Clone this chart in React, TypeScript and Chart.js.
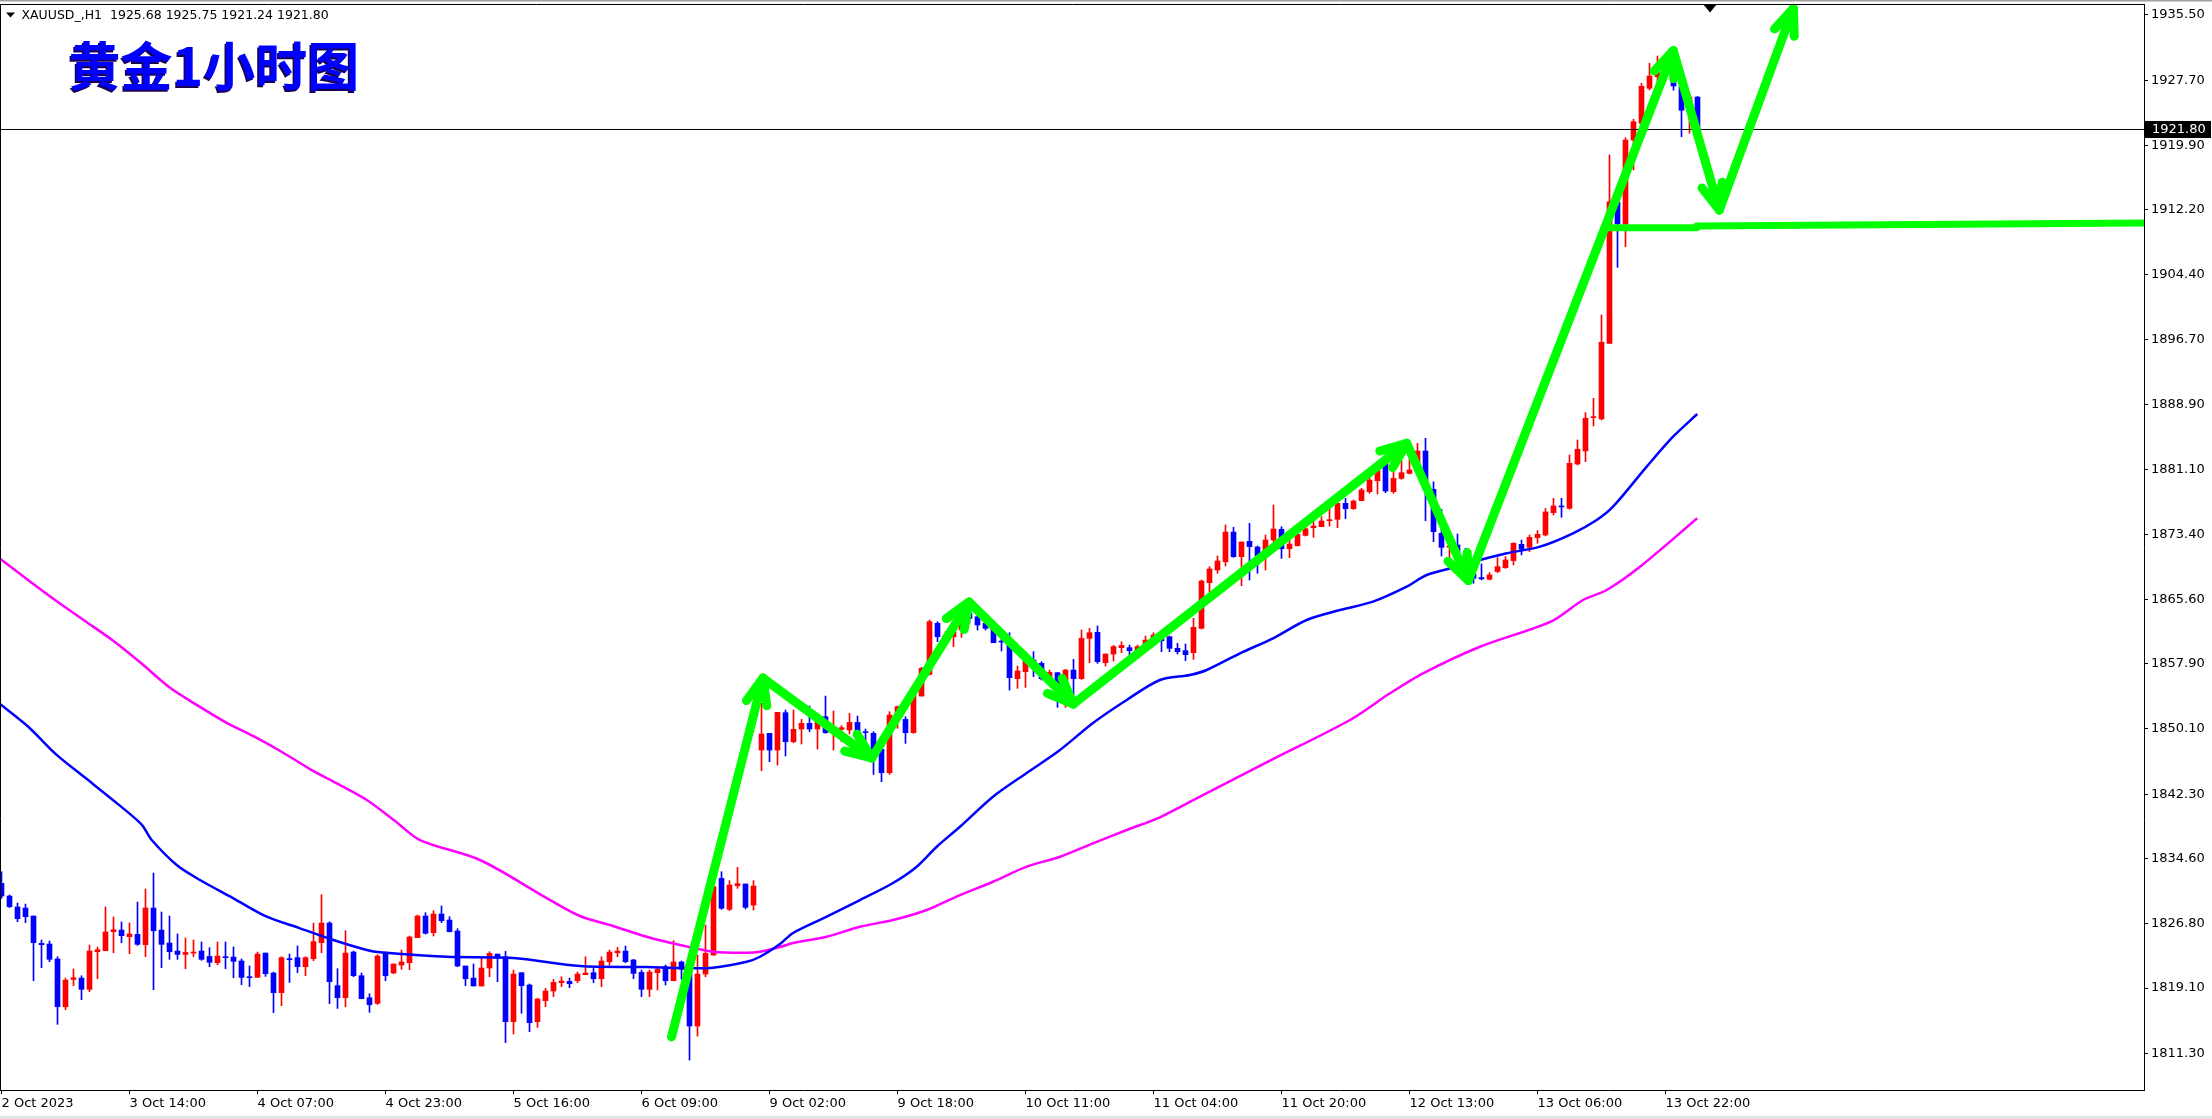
import { useEffect, useRef } from 'react';
import { Chart, registerables } from 'chart.js';

Chart.register(...registerables);

const W = 2212;
const H = 1119;

const SYMBOL = 'XAUUSD_,H1';
const TITLE = '黄金1小时图';

// candles, one per hour, index 0 = first visible bar
const opens = [
  1831.63, 1830.11, 1828.80, 1828.68, 1827.72, 1824.45, 1824.37, 1822.58, 1816.87, 1820.14,
  1820.30, 1818.95, 1823.45, 1823.57, 1825.85, 1826.04, 1825.25, 1825.53, 1824.29, 1828.68,
  1826.04, 1824.49, 1823.53, 1823.13, 1823.29, 1823.53, 1822.89, 1822.14, 1822.85, 1822.81,
  1822.34, 1820.46, 1820.38, 1823.29, 1820.90, 1818.55, 1822.62, 1822.74, 1821.66, 1822.62,
  1824.53, 1826.88, 1819.39, 1817.95, 1823.41, 1820.58, 1817.95, 1817.27, 1823.25, 1820.90,
  1821.86, 1822.14, 1825.13, 1827.72, 1825.73, 1827.96, 1827.24, 1825.93, 1821.74, 1820.30,
  1819.35, 1821.50, 1823.17, 1822.85, 1815.08, 1820.94, 1819.47, 1815.08, 1817.59, 1818.75,
  1819.74, 1819.90, 1819.98, 1820.70, 1820.94, 1820.22, 1822.26, 1823.33, 1823.53, 1822.46,
  1820.98, 1818.95, 1820.94, 1821.66, 1819.98, 1822.22, 1821.06, 1814.56, 1820.78, 1823.05,
  1832.22, 1828.52, 1831.35, 1831.55, 1829.03, 1847.57, 1849.57, 1847.57, 1852.04, 1848.57,
  1850.09, 1850.77, 1850.09, 1851.56, 1849.97, 1850.05, 1849.97, 1850.88, 1849.77, 1849.57,
  1847.66, 1844.86, 1851.76, 1851.24, 1849.65, 1854.03, 1856.63, 1862.73, 1861.05, 1861.13,
  1861.93, 1863.92, 1863.52, 1862.73, 1862.33, 1860.61, 1860.33, 1856.11, 1856.95, 1858.34,
  1857.94, 1855.95, 1856.83, 1854.75, 1857.14, 1856.11, 1860.93, 1861.65, 1858.02, 1859.06,
  1859.82, 1859.82, 1859.54, 1859.54, 1860.73, 1860.81, 1861.13, 1859.74, 1859.46, 1859.22,
  1862.13, 1867.59, 1869.11, 1870.10, 1873.65, 1870.70, 1872.54, 1871.86, 1871.42, 1872.70,
  1873.97, 1871.66, 1872.02, 1873.25, 1874.17, 1874.29, 1875.01, 1875.17, 1877.08, 1876.44,
  1877.40, 1878.48, 1879.79, 1881.87, 1878.48, 1880.07, 1880.67, 1881.07, 1883.34, 1878.76,
  1873.49, 1871.82, 1872.10, 1870.91, 1868.63, 1868.20, 1868.00, 1868.92, 1869.39, 1870.23,
  1872.18, 1871.82, 1872.98, 1873.30, 1875.97, 1876.77, 1876.49, 1881.79, 1883.35, 1887.33,
  1887.18, 1896.22, 1913.09, 1910.49, 1920.54, 1922.54, 1926.73, 1928.12, 1928.60, 1929.40,
  1926.97, 1923.90, 1925.68,
];
const highs = [
  1833.02, 1830.23, 1829.27, 1829.15, 1827.72, 1824.85, 1824.73, 1822.85, 1820.30, 1821.38,
  1820.58, 1824.25, 1824.01, 1828.80, 1827.60, 1827.00, 1826.88, 1829.39, 1830.95, 1832.86,
  1828.20, 1827.72, 1825.57, 1825.09, 1824.85, 1824.61, 1823.93, 1824.61, 1824.61, 1824.01,
  1822.58, 1821.74, 1823.41, 1823.29, 1821.02, 1822.85, 1823.17, 1824.13, 1822.85, 1826.88,
  1830.27, 1827.04, 1821.42, 1825.96, 1823.53, 1820.90, 1818.43, 1823.09, 1823.41, 1821.98,
  1823.65, 1825.33, 1827.84, 1828.12, 1828.36, 1828.92, 1827.64, 1826.20, 1821.74, 1821.98,
  1822.77, 1823.45, 1823.17, 1823.49, 1821.26, 1820.94, 1819.59, 1817.87, 1819.07, 1820.14,
  1820.46, 1820.30, 1821.02, 1822.85, 1821.46, 1822.85, 1823.65, 1823.97, 1824.13, 1822.54,
  1821.26, 1821.26, 1821.66, 1821.86, 1824.77, 1822.34, 1821.66, 1823.05, 1826.64, 1834.42,
  1833.02, 1831.95, 1833.54, 1831.55, 1831.95, 1853.16, 1849.57, 1852.08, 1852.36, 1852.36,
  1851.24, 1852.84, 1851.96, 1854.03, 1852.24, 1850.49, 1851.96, 1851.64, 1850.09, 1849.77,
  1847.77, 1852.16, 1852.84, 1851.56, 1855.15, 1857.46, 1863.13, 1862.93, 1861.73, 1862.13,
  1864.12, 1864.52, 1863.92, 1863.13, 1862.33, 1861.33, 1861.61, 1857.62, 1859.34, 1859.34,
  1858.14, 1857.14, 1856.83, 1857.22, 1858.42, 1861.93, 1862.13, 1862.41, 1859.06, 1860.09,
  1860.53, 1860.13, 1860.13, 1861.21, 1861.61, 1861.33, 1861.21, 1860.34, 1860.26, 1863.33,
  1867.91, 1869.51, 1870.78, 1874.49, 1874.21, 1872.46, 1874.69, 1871.98, 1873.29, 1876.88,
  1874.29, 1873.29, 1873.69, 1874.29, 1875.09, 1875.49, 1876.48, 1877.56, 1877.68, 1877.48,
  1878.88, 1880.27, 1881.47, 1882.86, 1881.67, 1882.26, 1883.06, 1884.26, 1884.86, 1879.67,
  1876.36, 1872.30, 1873.41, 1871.71, 1869.91, 1869.83, 1868.80, 1870.59, 1870.71, 1872.38,
  1872.70, 1873.30, 1873.82, 1876.49, 1877.69, 1877.69, 1882.87, 1884.66, 1887.93, 1889.65,
  1899.62, 1918.75, 1913.09, 1920.82, 1923.02, 1927.33, 1929.72, 1930.59, 1930.40, 1930.00,
  1927.30, 1926.13, 1925.75,
];
const lows = [
  1829.83, 1828.72, 1827.04, 1826.92, 1819.98, 1821.54, 1822.26, 1814.76, 1816.51, 1819.39,
  1817.71, 1818.67, 1820.22, 1823.57, 1823.33, 1824.53, 1823.21, 1824.21, 1822.85, 1818.91,
  1821.54, 1822.54, 1822.54, 1821.42, 1822.85, 1822.42, 1821.66, 1821.90, 1821.42, 1820.34,
  1819.51, 1819.27, 1820.38, 1820.50, 1816.16, 1816.99, 1819.78, 1820.94, 1820.58, 1822.38,
  1823.33, 1817.23, 1816.67, 1816.87, 1820.46, 1817.83, 1816.20, 1817.15, 1819.98, 1820.82,
  1821.34, 1821.30, 1825.13, 1825.57, 1825.33, 1826.92, 1825.81, 1821.66, 1819.39, 1819.35,
  1819.35, 1820.46, 1819.86, 1812.57, 1813.60, 1816.08, 1813.88, 1814.40, 1816.87, 1818.07,
  1819.27, 1819.15, 1819.74, 1820.70, 1819.74, 1819.27, 1821.86, 1822.85, 1822.14, 1820.22,
  1818.07, 1818.07, 1818.87, 1819.47, 1819.98, 1820.14, 1810.49, 1813.36, 1820.46, 1823.05,
  1828.52, 1828.36, 1831.03, 1828.56, 1828.44, 1845.10, 1846.18, 1845.78, 1846.86, 1848.45,
  1848.29, 1849.77, 1847.69, 1849.57, 1847.57, 1848.57, 1849.49, 1849.37, 1848.37, 1844.66,
  1843.79, 1844.66, 1850.17, 1848.37, 1849.57, 1854.03, 1856.55, 1860.53, 1860.81, 1859.94,
  1861.05, 1862.73, 1861.93, 1861.93, 1860.41, 1859.42, 1854.75, 1854.95, 1855.07, 1856.35,
  1855.95, 1855.95, 1852.68, 1852.68, 1853.08, 1856.03, 1858.02, 1857.94, 1857.62, 1858.22,
  1859.22, 1858.94, 1859.22, 1859.34, 1860.33, 1859.34, 1859.34, 1859.06, 1858.26, 1858.42,
  1862.05, 1866.52, 1868.71, 1869.59, 1870.62, 1867.23, 1867.91, 1868.71, 1869.11, 1872.50,
  1870.50, 1870.58, 1871.98, 1873.17, 1873.01, 1874.29, 1874.37, 1874.17, 1875.25, 1876.36,
  1877.40, 1878.28, 1878.20, 1878.36, 1878.28, 1879.95, 1880.59, 1880.87, 1875.01, 1872.50,
  1870.78, 1870.62, 1870.50, 1869.51, 1867.52, 1867.92, 1867.92, 1868.80, 1869.31, 1869.71,
  1870.91, 1871.31, 1872.30, 1873.18, 1875.69, 1875.41, 1876.37, 1881.67, 1882.07, 1886.34,
  1887.06, 1896.22, 1905.31, 1907.78, 1916.96, 1922.40, 1926.53, 1927.40, 1927.60, 1926.50,
  1920.94, 1921.35, 1921.24,
];
const closes = [
  1830.11, 1828.84, 1827.40, 1827.64, 1824.53, 1824.29, 1822.54, 1816.87, 1820.06, 1820.34,
  1818.95, 1823.53, 1823.69, 1825.81, 1826.08, 1825.37, 1825.57, 1824.33, 1828.68, 1825.96,
  1824.33, 1823.45, 1823.13, 1823.37, 1823.41, 1822.54, 1822.18, 1822.93, 1822.74, 1822.30,
  1820.38, 1820.34, 1823.17, 1820.82, 1818.55, 1822.74, 1822.50, 1821.66, 1822.74, 1824.65,
  1826.88, 1819.86, 1817.95, 1823.29, 1820.58, 1817.83, 1817.11, 1822.93, 1820.58, 1821.98,
  1822.22, 1825.21, 1827.72, 1825.65, 1827.96, 1827.16, 1825.85, 1821.74, 1820.22, 1819.35,
  1821.50, 1823.25, 1822.66, 1815.08, 1820.78, 1819.39, 1814.96, 1817.79, 1818.75, 1819.78,
  1819.94, 1819.62, 1820.78, 1820.90, 1820.22, 1822.34, 1823.41, 1823.53, 1822.26, 1820.86,
  1818.95, 1821.02, 1821.34, 1819.98, 1822.22, 1821.34, 1814.56, 1820.78, 1823.25, 1831.23,
  1828.64, 1831.43, 1831.59, 1828.76, 1831.31, 1849.49, 1847.57, 1852.08, 1848.57, 1850.05,
  1850.77, 1850.09, 1850.96, 1849.65, 1850.17, 1850.25, 1850.88, 1849.57, 1849.65, 1847.57,
  1844.86, 1851.76, 1852.76, 1849.65, 1854.15, 1857.34, 1862.93, 1861.13, 1861.33, 1861.73,
  1863.72, 1863.32, 1862.53, 1862.13, 1860.41, 1860.49, 1856.23, 1857.03, 1858.34, 1857.46,
  1856.11, 1856.87, 1854.83, 1857.14, 1856.11, 1860.93, 1861.61, 1858.14, 1859.06, 1859.94,
  1860.09, 1859.46, 1859.94, 1860.73, 1861.33, 1860.65, 1859.74, 1859.34, 1858.98, 1862.25,
  1867.79, 1869.23, 1870.19, 1873.65, 1870.70, 1872.46, 1871.90, 1870.82, 1872.70, 1874.01,
  1871.66, 1872.22, 1873.37, 1874.05, 1874.37, 1874.97, 1875.13, 1877.08, 1876.44, 1877.36,
  1878.68, 1879.87, 1880.99, 1878.56, 1880.07, 1880.75, 1881.07, 1883.34, 1878.68, 1873.69,
  1871.82, 1871.98, 1871.30, 1869.91, 1868.12, 1868.04, 1868.52, 1869.51, 1870.31, 1872.30,
  1871.59, 1873.02, 1873.38, 1876.05, 1876.77, 1876.65, 1881.87, 1883.55, 1887.26, 1887.45,
  1896.35, 1913.16, 1910.49, 1920.54, 1922.73, 1926.97, 1928.20, 1928.60, 1929.40, 1927.00,
  1924.10, 1925.68, 1921.80,
];

// moving averages: [bar index, price]
const maFast: [number, number][] = [
  [-0.19, 1853.08], [3.31, 1850.39], [6.86, 1847.02], [10.39, 1844.31], [13.92, 1841.6],
  [17.44, 1838.73], [18.78, 1836.81], [21.9, 1833.82], [24.81, 1832.03], [28.98, 1829.84],
  [33.15, 1827.64], [37.31, 1826.25], [41.48, 1824.85], [45.65, 1823.66], [47.31, 1823.38],
  [55.65, 1822.85], [63.94, 1822.7], [72.31, 1821.74], [80.69, 1821.62], [84.81, 1821.5],
  [88.94, 1821.54], [93.15, 1822.25], [94.81, 1822.85], [97.31, 1824.37], [98.94, 1825.69],
  [103.15, 1827.64], [107.31, 1829.63], [111.44, 1831.67], [114.4, 1833.62], [116.9, 1836.01],
  [119.81, 1838.4], [123.94, 1841.99], [128.15, 1844.83], [132.31, 1847.58], [136.44, 1850.81],
  [140.65, 1853.56], [144.81, 1855.95], [148.56, 1856.55], [150.65, 1857.15], [154.81, 1859.14],
  [158.94, 1860.94], [163.15, 1863.13], [167.31, 1864.32], [171.44, 1865.32], [175.65, 1867.11],
  [178.15, 1868.51], [181.9, 1869.5], [184.81, 1870.3], [188.15, 1871.11], [192.31, 1871.9],
  [196.44, 1873.5], [199.4, 1875.09], [201.44, 1876.68], [205.65, 1881.47], [208.94, 1885.05],
  [211.97, 1887.77],
];
const maSlow: [number, number][] = [
  [-0.19, 1870.47], [3.31, 1867.91], [6.86, 1865.4], [10.39, 1863.04], [13.92, 1860.68],
  [17.44, 1857.98], [20.94, 1855.11], [24.5, 1852.91], [28.03, 1850.89], [31.56, 1849.2],
  [35.06, 1847.34], [38.56, 1845.3], [42.14, 1843.46], [45.66, 1841.6], [49.19, 1839.1],
  [52.31, 1836.81], [59.81, 1834.42], [68.15, 1829.87], [72.31, 1827.72], [76.44, 1826.53],
  [80.65, 1825.24], [84.81, 1824.25], [88.94, 1823.45], [93.15, 1823.33], [94.81, 1823.45],
  [97.31, 1824.01], [98.94, 1824.49], [103.15, 1825.24], [107.31, 1826.44], [111.44, 1827.24],
  [115.65, 1828.44], [119.81, 1830.23], [123.94, 1831.82], [128.15, 1833.62], [132.31, 1834.81],
  [136.44, 1836.42], [140.65, 1838.01], [144.81, 1839.53], [149.81, 1842.0], [158.56, 1846.3],
  [168.56, 1851.17], [173.56, 1854.36], [177.69, 1856.75], [184.81, 1859.93], [193.81, 1863.0],
  [197.69, 1865.52], [200.65, 1866.72], [204.81, 1869.5], [211.97, 1875.29],
];

// hand-drawn green zigzag arrows: vertices [bar index, price]
const arrowPath: [number, number][] = [
  [83.75, 1813.25], [95.19, 1856.19], [108.78, 1846.62], [120.94, 1865.28], [133.98, 1853.08],
  [175.65, 1884.26], [183.35, 1867.85], [208.98, 1931.23], [214.73, 1912.17], [223.98, 1936.3],
];
// green support line
const supportLine: [number, number][] = [
  [200.8, 1910.05], [211.9, 1910.05], [211.9, 1910.26], [267.6, 1910.62],
];

const xTickIdx = [0, 16, 32, 48, 64, 80, 96, 112, 128, 144, 160, 176, 192, 208];
const xTickLabels = [
  '2 Oct 2023', '3 Oct 14:00', '4 Oct 07:00', '4 Oct 23:00', '5 Oct 16:00', '6 Oct 09:00',
  '9 Oct 02:00', '9 Oct 18:00', '10 Oct 11:00', '11 Oct 04:00', '11 Oct 20:00', '12 Oct 13:00',
  '13 Oct 06:00', '13 Oct 22:00',
];
const yTicks = [
  1935.5, 1927.7, 1919.9, 1912.2, 1904.4, 1896.7, 1888.9, 1881.1, 1873.4, 1865.6, 1857.9,
  1850.1, 1842.3, 1834.6, 1826.8, 1819.1, 1811.3,
];

const Y_MIN = 1806.91;
const Y_MAX = 1936.81;
const X_MIN = -0.1875;
const X_MAX = 267.8125;

const FONT = 'DejaVu Sans';
const GREEN = '#00FF00';
const UP = '#FF0000';
const DOWN = '#0000FF';

const decor = {
  id: 'mt4decor',
  beforeDraw(chart: any) {
    const c = chart.ctx;
    c.save();
    c.fillStyle = '#ffffff';
    c.fillRect(0, 0, W, H);
    c.fillStyle = '#a0a0a0';
    c.fillRect(0, 0, W, 1.5);
    c.fillStyle = '#e3e3e3';
    c.fillRect(0, H - 3, W, 3);
    c.restore();
  },
  afterDatasetsDraw(chart: any) {
    const c = chart.ctx;
    const xs = chart.scales.x;
    const ys = chart.scales.y;
    const pts = arrowPath.map(([x, y]) => [xs.getPixelForValue(x), ys.getPixelForValue(y)]);
    c.save();
    c.strokeStyle = GREEN;
    c.lineWidth = 9;
    c.lineCap = 'round';
    const L = 28;
    const ang = (22 * Math.PI) / 180;
    for (let k = 1; k < pts.length; k++) {
      const [x1, y1] = pts[k - 1];
      const [x2, y2] = pts[k];
      const a = Math.atan2(y1 - y2, x1 - x2);
      for (const s of [-1, 1]) {
        const b = a + s * ang;
        c.beginPath();
        c.moveTo(x2, y2);
        c.lineTo(x2 + L * Math.cos(b), y2 + L * Math.sin(b));
        c.stroke();
      }
    }
    c.restore();
  },
  afterDraw(chart: any) {
    const c = chart.ctx;
    const a = chart.chartArea;
    const last = closes.length - 1;
    c.save();
    // frame
    c.strokeStyle = '#000';
    c.lineWidth = 1;
    c.beginPath();
    c.moveTo(a.left + 0.5, a.bottom);
    c.lineTo(a.left + 0.5, a.top + 0.5);
    c.lineTo(a.right, a.top + 0.5);
    c.stroke();
    // shift marker
    c.fillStyle = '#000';
    c.beginPath();
    c.moveTo(1703, a.top);
    c.lineTo(1717, a.top);
    c.lineTo(1710, a.top + 8.5);
    c.closePath();
    c.fill();
    // header
    c.beginPath();
    c.moveTo(6, 12.5);
    c.lineTo(15, 12.5);
    c.lineTo(10.5, 17.5);
    c.closePath();
    c.fill();
    c.font = `12.5px "${FONT}"`;
    c.textBaseline = 'middle';
    c.textAlign = 'left';
    const hdr = `${SYMBOL}  ${opens[last].toFixed(2)} ${highs[last].toFixed(2)} ${lows[last].toFixed(2)} ${closes[last].toFixed(2)}`;
    c.fillText(hdr, 21.5, 16);
    // title
    c.font = `bold 52px "Noto Sans CJK SC"`;
    c.fillStyle = '#1a0050';
    c.fillText(TITLE, 67, 68);
    c.fillStyle = '#0000FF';
    c.fillText(TITLE, 68.5, 66.5);
    // bid label
    const by = chart.scales.y.getPixelForValue(closes[last]);
    c.fillStyle = '#000';
    c.fillRect(a.right + 1, by - 8.5, 66, 17);
    c.fillStyle = '#fff';
    c.font = `13px "${FONT}"`;
    c.fillText(closes[last].toFixed(2), a.right + 8, by + 0.5);
    c.restore();
  },
};

export default function App() {
  const ref = useRef<HTMLCanvasElement>(null);
  useEffect(() => {
    document.body.style.margin = '0';
    const canvas = ref.current!;
    const idx = opens.map((_, i) => i);
    const colors = idx.map((i) => (closes[i] >= opens[i] ? UP : DOWN));
    const last = closes.length - 1;
    const chart = new Chart(canvas, {
      type: 'bar',
      data: {
        datasets: [
          {
            type: 'line',
            data: arrowPath.map(([x, y]) => ({ x, y })),
            borderColor: GREEN,
            borderWidth: 9,
            borderCapStyle: 'round',
            borderJoinStyle: 'round',
            pointRadius: 0,
            tension: 0,
            order: 0,
          } as any,
          {
            type: 'line',
            data: supportLine.map(([x, y]) => ({ x, y })),
            borderColor: GREEN,
            borderWidth: 7,
            borderCapStyle: 'round',
            borderJoinStyle: 'round',
            pointRadius: 0,
            tension: 0,
            order: 1,
          } as any,
          {
            type: 'line',
            data: [
              { x: X_MIN, y: closes[last] },
              { x: X_MAX, y: closes[last] },
            ],
            borderColor: '#000',
            borderWidth: 1,
            pointRadius: 0,
            order: 2,
          } as any,
          {
            type: 'line',
            data: maFast.map(([x, y]) => ({ x, y })),
            borderColor: '#0000FF',
            borderWidth: 2.5,
            pointRadius: 0,
            tension: 0.3,
            order: 3,
          } as any,
          {
            type: 'line',
            data: maSlow.map(([x, y]) => ({ x, y })),
            borderColor: '#FF00FF',
            borderWidth: 2.5,
            pointRadius: 0,
            tension: 0.3,
            order: 3,
          } as any,
          {
            type: 'bar',
            data: idx.map((i) => ({ x: i, y: [opens[i], closes[i]] })),
            backgroundColor: colors,
            borderWidth: 0,
            barThickness: 5,
            minBarLength: 1,
            grouped: false,
            order: 4,
          } as any,
          {
            type: 'bar',
            data: idx.map((i) => ({ x: i, y: [lows[i], highs[i]] })),
            backgroundColor: colors,
            borderWidth: 0,
            barThickness: 1,
            minBarLength: 1,
            grouped: false,
            order: 5,
          } as any,
        ],
      },
      options: {
        responsive: false,
        animation: false,
        events: [],
        layout: { padding: { top: 4, left: 0, right: 0, bottom: 0 } },
        plugins: {
          legend: { display: false },
          tooltip: { enabled: false },
          title: { display: false },
        },
        scales: {
          x: {
            type: 'linear',
            min: X_MIN,
            max: X_MAX,
            offset: false,
            position: 'bottom',
            grid: {
              display: true,
              drawOnChartArea: false,
              drawTicks: true,
              tickLength: 4,
              color: '#000',
              offset: false,
            },
            border: { display: true, color: '#000', width: 1 },
            ticks: {
              autoSkip: false,
              maxRotation: 0,
              minRotation: 0,
              align: 'start',
              padding: 2,
              color: '#000',
              font: { family: FONT, size: 13 },
              callback: (_v: any, i: number) => xTickLabels[i] ?? '',
            },
            afterBuildTicks: (s: any) => {
              s.ticks = xTickIdx.map((v) => ({ value: v }));
            },
            afterFit: (s: any) => {
              s.height = 29;
              s.paddingLeft = 0;
              s.paddingRight = 0;
            },
          },
          y: {
            type: 'linear',
            position: 'right',
            min: Y_MIN,
            max: Y_MAX,
            grid: {
              display: true,
              drawOnChartArea: false,
              drawTicks: true,
              tickLength: 4,
              color: '#000',
            },
            border: { display: true, color: '#000', width: 1 },
            ticks: {
              autoSkip: false,
              padding: 3,
              color: '#000',
              font: { family: FONT, size: 13 },
              callback: (v: any) => Number(v).toFixed(2),
            },
            afterBuildTicks: (s: any) => {
              s.ticks = yTicks.map((v) => ({ value: v }));
            },
            afterFit: (s: any) => {
              s.width = 68;
              s.paddingTop = 0;
              s.paddingBottom = 0;
            },
          },
        },
      } as any,
      plugins: [decor],
    });
    return () => chart.destroy();
  }, []);
  return (
    <div style={{ position: 'fixed', left: 0, top: 0, width: W, height: H, background: '#fff' }}>
      <canvas ref={ref} width={W} height={H} style={{ width: W, height: H, display: 'block' }} />
    </div>
  );
}
